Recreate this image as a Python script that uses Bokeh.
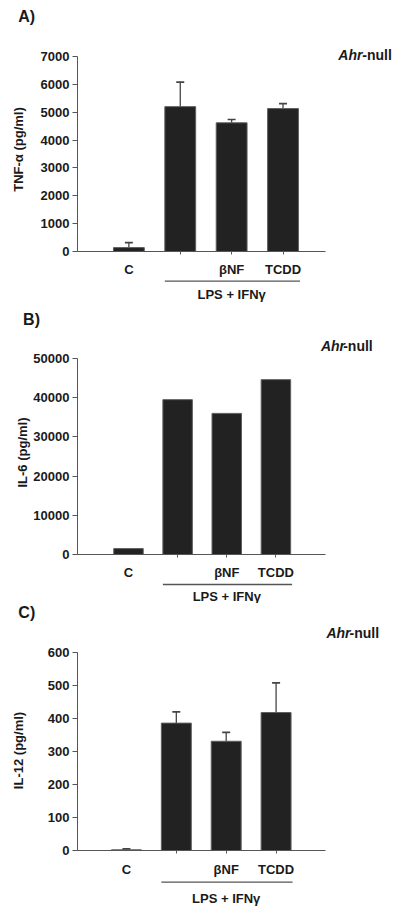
import numpy as np
from bokeh.plotting import figure
from bokeh.models import (Range1d, FixedTicker, Whisker, ColumnDataSource,
                          TeeHead, NumeralTickFormatter)
from bokeh.core.properties import value
from bokeh.layouts import column
from bokeh.embed import file_html
from bokeh.resources import INLINE

# ---------------- data ----------------
categories = ["C", "", "βNF", "TCDD"]
group_label = "LPS + IFNγ"
strain_italic = "Ahr"
strain_rest = "-null"

panel_letters = ["A)", "B)", "C)"]
y_titles = ["TNF-α (pg/ml)", "IL-6 (pg/ml)", "IL-12 (pg/ml)"]

tnf_values = [140, 5200, 4620, 5130]
tnf_errors = [180, 880, 120, 180]
tnf_ticks = [0, 1000, 2000, 3000, 4000, 5000, 6000, 7000]

il6_values = [1500, 39500, 36000, 44600]
il6_errors = None
il6_ticks = [0, 10000, 20000, 30000, 40000, 50000]

il12_values = [2, 386, 331, 418]
il12_errors = [3, 34, 27, 90]
il12_ticks = [0, 100, 200, 300, 400, 500, 600]

# ---------------- layout (page pixels) ----------------
PAGE_W = 400
geoms = [
    dict(top=0, height=303, L=74, R=325, T=56, B=251, origin=74, step=52.0,
         letter=(14, 16), strain_y=54, ytitle=(14, 149), cat_standoff=7,
         underline_y=280.7, lps_y=294),
    dict(top=303, height=300, L=74, R=343, T=358, B=554, origin=76, step=53.3,
         letter=(15, 319), strain_y=345, ytitle=(14, 452), cat_standoff=7,
         underline_y=584, lps_y=595.5),
    dict(top=603, height=309, L=77, R=337, T=652, B=850, origin=76, step=52.3,
         letter=(15, 612), strain_y=632, ytitle=(15, 750), cat_standoff=8,
         underline_y=881.7, lps_y=898),
]

FONT = "Liberation Sans"
BAR_W = 0.6
INK = "#1a1a1a"
GREY = "#555555"


def make_panel(letter, ytitle, values, errors, ticks, g):
    ymax = ticks[-1]
    x = np.arange(1, len(categories) + 1)
    x0 = (g["L"] - g["origin"]) / g["step"]
    x1 = (g["R"] - g["origin"]) / g["step"]

    def dx(px):
        return x0 + (px - g["L"]) / (g["R"] - g["L"]) * (x1 - x0)

    def dy(py):
        return ymax - (py - g["T"]) / (g["B"] - g["T"]) * ymax

    p = figure(width=PAGE_W, height=g["height"], x_range=Range1d(x0, x1),
               y_range=Range1d(0, ymax), output_backend="svg",
               toolbar_location=None,
               min_border_left=g["L"], min_border_right=PAGE_W - g["R"],
               min_border_top=g["T"] - g["top"],
               min_border_bottom=g["top"] + g["height"] - g["B"])
    p.outline_line_color = None
    p.xgrid.visible = False
    p.ygrid.visible = False
    p.background_fill_color = "white"
    p.border_fill_color = "white"

    p.vbar(x=x, top=values, bottom=0, width=BAR_W, fill_color="#222222",
           line_color="#5e5e5e", line_width=1)

    if errors is not None:
        src = ColumnDataSource(dict(x=x, lower=values,
                                    upper=np.array(values) + np.array(errors)))
        p.add_layout(Whisker(source=src, base="x", lower="lower", upper="upper",
                             dimension="height", line_color="#444444",
                             line_width=1.3, lower_head=None,
                             upper_head=TeeHead(size=8, line_color="#444444",
                                                line_width=1.6)))

    # y axis
    ya = p.yaxis[0]
    ya.ticker = FixedTicker(ticks=ticks)
    ya.formatter = NumeralTickFormatter(format="0")
    ya.major_tick_out = 5
    ya.major_tick_in = 0
    ya.minor_tick_out = 0
    ya.minor_tick_in = 0
    ya.axis_line_color = GREY
    ya.major_tick_line_color = GREY
    ya.major_label_standoff = 3
    ya.major_label_text_font = FONT
    ya.major_label_text_font_style = "bold"
    ya.major_label_text_font_size = "13px"
    ya.major_label_text_color = INK

    # x axis
    xa = p.xaxis[0]
    xa.ticker = FixedTicker(ticks=list(x), minor_ticks=list(x[1:]))
    xa.major_label_overrides = {int(k): c for k, c in zip(x, categories)}
    xa.major_tick_out = 0
    xa.major_tick_in = 0
    xa.minor_tick_out = 3
    xa.minor_tick_in = 0
    xa.axis_line_color = GREY
    xa.minor_tick_line_color = GREY
    xa.major_label_standoff = g["cat_standoff"]
    xa.major_label_text_font = FONT
    xa.major_label_text_font_style = "bold"
    xa.major_label_text_font_size = "13px"
    xa.major_label_text_color = INK

    def txt(px, py, s, size, style="bold", align="left", angle=0.0):
        p.text(x=[dx(px)], y=[dy(py)], text=[s], angle=angle,
               text_font=value(FONT), text_font_style=style,
               text_font_size=value(size), text_align=align,
               text_baseline="middle", text_color=INK, level="overlay")

    # panel letter
    txt(g["letter"][0], g["letter"][1], letter, "16px")
    # strain label (italic gene symbol + "-null")
    txt(338, g["strain_y"], strain_italic, "14px", style="bold italic")
    txt(362.2, g["strain_y"], strain_rest, "14px")
    # y title
    txt(g["ytitle"][0], g["ytitle"][1], ytitle, "13px", align="center",
        angle=np.pi / 2)
    # group underline and label
    gx0 = x[1] - BAR_W / 2
    gx1 = x[-1] + BAR_W / 2 + 0.03
    uy = dy(g["underline_y"])
    p.segment(x0=[gx0], x1=[gx1], y0=[uy], y1=[uy], line_color=GREY,
              line_width=1.3, level="overlay")
    p.text(x=[x[2]], y=[dy(g["lps_y"])], text=[group_label],
           text_font=value(FONT), text_font_style="bold",
           text_font_size=value("13px"), text_align="center",
           text_baseline="middle", text_color=INK, level="overlay")
    return p


pa = make_panel(panel_letters[0], y_titles[0], tnf_values, tnf_errors, tnf_ticks, geoms[0])
pb = make_panel(panel_letters[1], y_titles[1], il6_values, il6_errors, il6_ticks, geoms[1])
pc = make_panel(panel_letters[2], y_titles[2], il12_values, il12_errors, il12_ticks, geoms[2])

layout = column(pa, pb, pc, spacing=0)
open("out.html", "w").write(file_html(layout, INLINE))
